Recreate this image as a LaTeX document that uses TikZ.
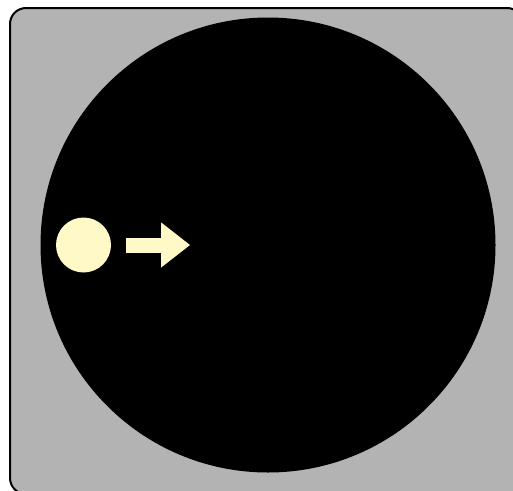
\documentclass[tikz,border=0pt]{standalone}
\usetikzlibrary{arrows.meta,positioning,calc}
\definecolor{boxgray}{RGB}{179,179,179}
\definecolor{cream}{RGB}{255,249,200}
\tikzset{
  frame/.style={draw=black, line width=2pt, fill=boxgray, rounded corners=16pt},
  hole/.style={circle, fill=black, minimum size=455pt, inner sep=0pt},
  ball/.style={circle, fill=cream, minimum size=55pt, inner sep=0pt},
  push/.style={draw=cream, line width=15pt, -{Triangle[length=29pt, width=43pt]}}
}
\begin{document}
\begin{tikzpicture}[x=1pt, y=-1pt]
\clip (0,0) rectangle (513,490);
\draw[frame] (10,8) rectangle (523,494);
\node[hole] (disc) at (268,245) {};
\node[ball] (marble) at (83.5,245) {};
\draw[push] ($(marble.east)+(15,0)$) -- ++(64,0);
\end{tikzpicture}
\end{document}
